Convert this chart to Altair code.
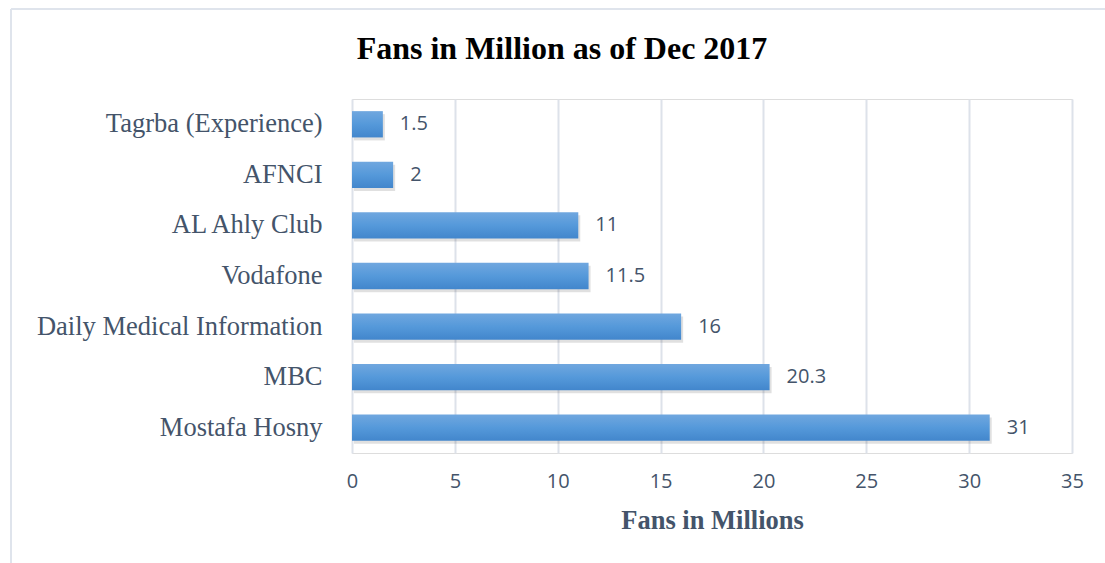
import altair as alt
import pandas as pd

categories = ["Tagrba (Experience)", "AFNCI", "AL Ahly Club", "Vodafone",
              "Daily Medical Information", "MBC", "Mostafa Hosny"]
fans = [1.5, 2, 11, 11.5, 16, 20.3, 31]
x_ticks = [0, 5, 10, 15, 20, 25, 30, 35]
title_text = ["Fans in Million as of Dec 2017"]

df = pd.DataFrame({"name": categories, "fans": fans})
one = pd.DataFrame({"t": title_text})

TEXT = "#44546A"
GRID = "#DDE2EA"

y_enc = alt.Y("name:N", sort=categories, title=None,
              scale=alt.Scale(paddingInner=0.48, paddingOuter=0.24),
              axis=alt.Axis(labelFont="Liberation Serif", labelFontSize=26.5,
                            labelColor=TEXT, labelPadding=30, ticks=False,
                            domain=False, grid=False, labelLimit=400))
x_enc = alt.X("fans:Q", title="Fans in Millions",
              scale=alt.Scale(domain=[0, 35], nice=False),
              axis=alt.Axis(values=x_ticks, labelFont="Open Sans", labelFontSize=20,
                            labelColor=TEXT, labelPadding=18, ticks=False,
                            labelFlush=False,
                            domain=False, grid=True, gridColor=GRID, gridWidth=2,
                            titleFont="Liberation Serif", titleFontSize=26.5,
                            titleFontWeight="bold", titleColor=TEXT, titlePadding=16))

base = alt.Chart(df)

shadow = base.mark_bar(color="#000000", opacity=0.12, yOffset=3, xOffset=2).encode(
    x=x_enc, y=y_enc)

bars = base.mark_bar(
    color=alt.Gradient(
        gradient="linear",
        stops=[alt.GradientStop(color="#70A7DF", offset=0),
               alt.GradientStop(color="#5599DA", offset=0.5),
               alt.GradientStop(color="#4286CC", offset=1)],
        x1=0, x2=0, y1=0, y2=1)
).encode(x=x_enc, y=y_enc)

labels = base.mark_text(align="left", baseline="middle", dx=17, font="Open Sans",
                        fontSize=20, color=TEXT).encode(
    x="fans:Q", y=alt.Y("name:N", sort=categories), text="fans:Q")

border_left = alt.Chart(one).mark_rule(color="#DFE4EC", strokeWidth=2).encode(
    x=alt.value(-341), y=alt.value(-90), y2=alt.value(470))
border_top = alt.Chart(one).mark_rule(color="#DFE4EC", strokeWidth=2).encode(
    x=alt.value(-341), x2=alt.value(760), y=alt.value(-90))

title = alt.Chart(one).mark_text(font="Liberation Serif", fontSize=32, fontWeight="bold",
                                 color="#000000", align="center", baseline="middle").encode(
    x=alt.value(210), y=alt.value(-50), text="t:N")

chart = alt.layer(border_left, border_top, shadow, bars, labels, title).properties(
    width=720, height=354,
    autosize=alt.AutoSizeParams(type="none"),
    padding={"left": 352, "top": 99, "right": 33, "bottom": 110},
).configure_view(stroke=None).configure(background="white")

chart.save("out.html", embed_options={"renderer": "svg", "actions": False})
